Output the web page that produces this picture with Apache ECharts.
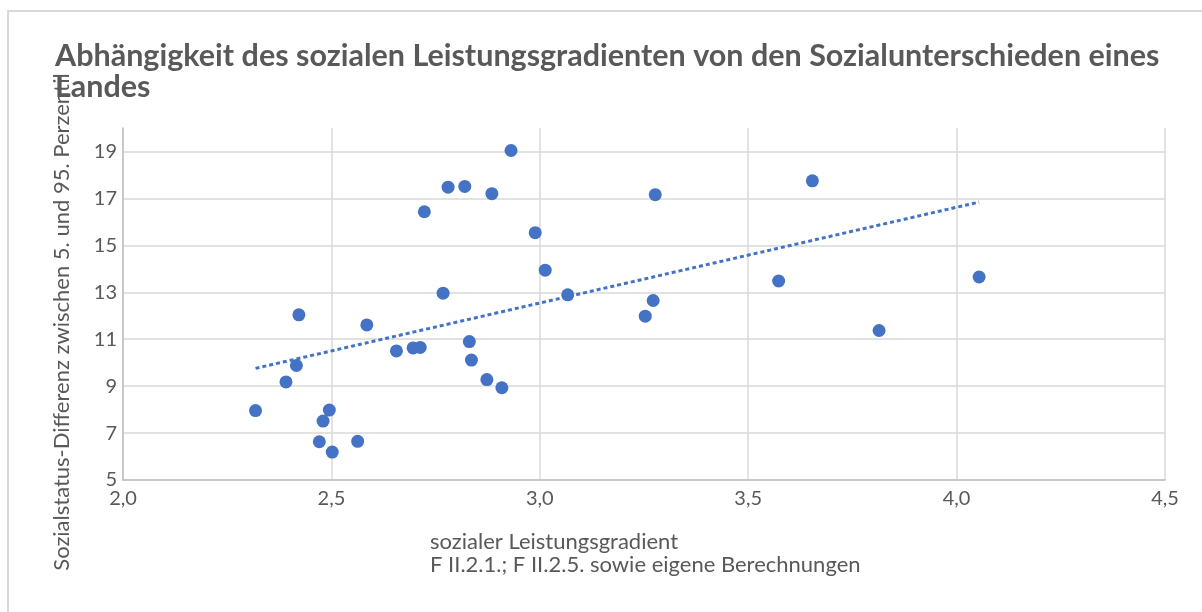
<!DOCTYPE html>
<html>
<head>
<meta charset="utf-8">
<script src="https://cdn.jsdelivr.net/npm/echarts@6/dist/echarts.min.js"></script>
<style>
html,body{margin:0;padding:0;background:#fff;}
#chart{width:1202px;height:612px;}
</style>
</head>
<body>
<div id="chart"></div>
<script>
// Data
const gradient = [2.931,2.780,2.820,2.885,2.723,2.989,3.013,2.768,2.422,2.585,2.831,2.656,2.696,2.713,2.836,2.416,2.391,2.873,2.909,2.318,2.495,2.480,2.471,2.563,2.502,3.277,3.654,3.067,3.272,3.253,3.573,3.814,4.054];
const statusDiff = [19.04,17.48,17.51,17.20,16.43,15.54,13.94,12.96,12.04,11.61,10.90,10.50,10.63,10.65,10.11,9.88,9.18,9.28,8.93,7.96,7.98,7.51,6.63,6.65,6.19,17.16,17.75,12.89,12.65,11.98,13.48,11.37,13.65];
const xTicks = {min: 2.0, max: 4.5, step: 0.5};
const yTicks = {min: 5, max: 20, step: 2};

const titleText = 'Abhängigkeit des sozialen Leistungsgradienten von den Sozialunterschieden eines\nLandes';
const yName = 'Sozialstatus-Differenz zwischen 5. und 95. Perzentil';
const xName = 'sozialer Leistungsgradient\nF II.2.1.; F II.2.5. sowie eigene Berechnungen';

const points = gradient.map((x, i) => [x, statusDiff[i]]);

// linear least-squares trendline
const n = gradient.length;
const mx = gradient.reduce((a, b) => a + b, 0) / n;
const my = statusDiff.reduce((a, b) => a + b, 0) / n;
let sxy = 0, sxx = 0;
for (let i = 0; i < n; i++) { sxy += (gradient[i] - mx) * (statusDiff[i] - my); sxx += (gradient[i] - mx) ** 2; }
const slope = sxy / sxx, icpt = my - slope * mx;
const x0 = Math.min(...gradient), x1 = Math.max(...gradient);
const trend = [[x0, icpt + slope * x0], [x1, icpt + slope * x1]];

const txt = '#595959';
const font = 'Lato, "Liberation Sans", sans-serif';

const chart = echarts.init(document.getElementById('chart'));
chart.setOption({
  animation: false,
  backgroundColor: '#fff',
  textStyle: {fontFamily: font},
  graphic: [{
    type: 'rect', z: -10, silent: true,
    shape: {x: 8, y: 11, width: 1300, height: 700},
    style: {fill: 'transparent', stroke: '#d9d9d9', lineWidth: 2}
  }],
  title: [{
    text: titleText,
    left: 50, top: 36,
    textStyle: {fontFamily: font, fontSize: 30.5, fontWeight: 'bold', color: txt, lineHeight: 31}
  }, {
    text: xName,
    left: 425, top: 525,
    textStyle: {fontFamily: font, fontSize: 22, fontWeight: 'normal', color: txt, lineHeight: 23}
  }],
  grid: {left: 123, right: 37, top: 128, bottom: 132, containLabel: false},
  xAxis: {
    type: 'value',
    min: xTicks.min, max: xTicks.max, interval: xTicks.step,
    axisLine: {show: true, lineStyle: {color: '#bfbfbf', width: 1.5}},
    axisTick: {show: false},
    axisLabel: {color: txt, fontSize: 20, margin: 9, fontFamily: font,
      formatter: v => v.toFixed(1).replace('.', ',')},
    splitLine: {show: true, lineStyle: {color: '#d9d9d9', width: 1.5}}
  },
  yAxis: {
    type: 'value',
    min: yTicks.min, max: yTicks.max, interval: yTicks.step,
    name: yName, nameLocation: 'middle', nameRotate: 90, nameGap: 50,
    nameTextStyle: {color: txt, fontSize: 22, fontFamily: font, padding: [0, 36, 0, 0]},
    axisLine: {show: true, lineStyle: {color: '#bfbfbf', width: 1.5}},
    axisTick: {show: false},
    axisLabel: {color: txt, fontSize: 20, margin: 6, fontFamily: font, showMaxLabel: false},
    splitLine: {show: true, showMaxLine: false, lineStyle: {color: '#d9d9d9', width: 1.5}}
  },
  series: [{
    type: 'line',
    data: trend,
    symbol: 'none',
    z: 1,
    lineStyle: {color: '#4472C4', width: 3, type: [4, 3]}
  }, {
    type: 'scatter',
    data: points,
    symbol: 'circle',
    symbolSize: 13,
    z: 3,
    itemStyle: {color: '#4472C4', opacity: 1}
  }]
});
</script>
</body>
</html>
